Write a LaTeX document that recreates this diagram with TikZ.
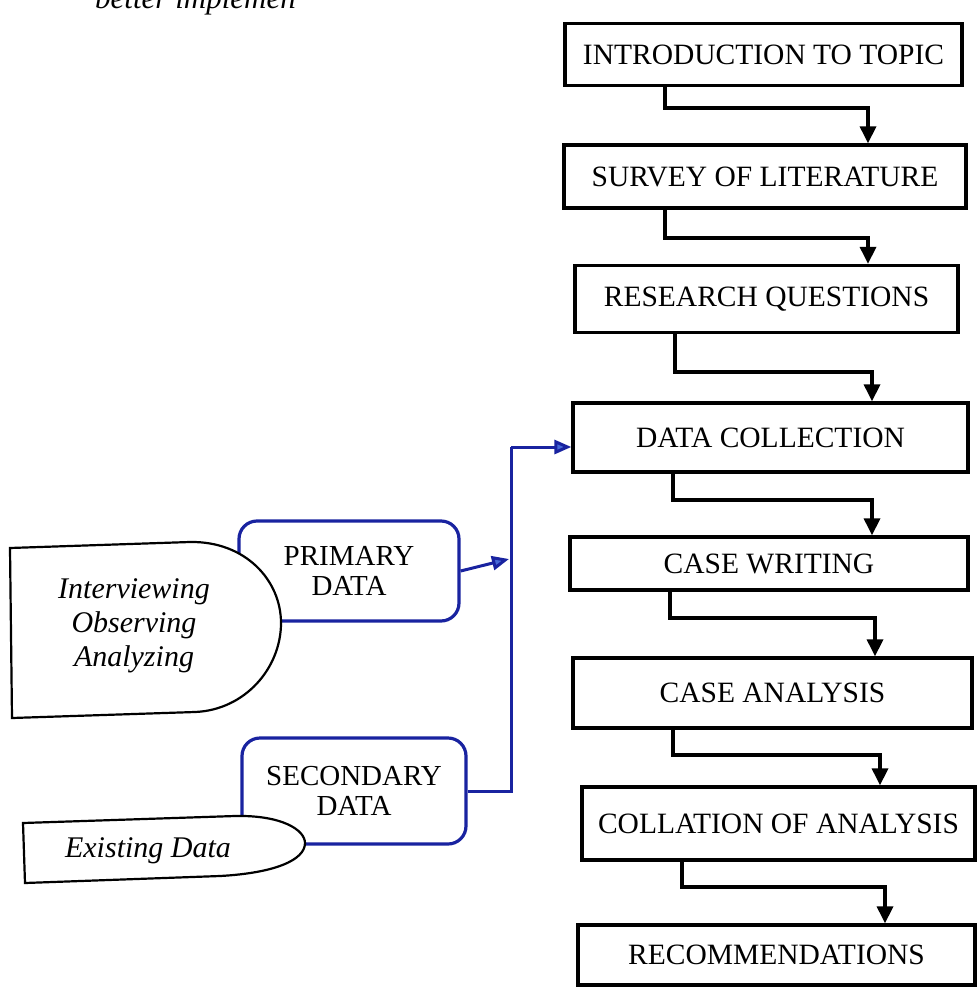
\documentclass[tikz,border=0pt]{standalone}
\usepackage{fontspec}
\setmainfont{Liberation Serif}
\usetikzlibrary{arrows.meta}
\definecolor{dblue}{RGB}{25,35,160}
\definecolor{ablue}{RGB}{70,105,215}
\begin{document}
\begin{tikzpicture}[x=1pt,y=-1pt,
  box/.style={draw=black, line width=3.3pt, fill=white, inner sep=0pt, font=\fontsize{29.5}{31}\selectfont},
  flow/.style={line width=3.3pt, line join=miter, -{Triangle[length=17pt,width=16pt]}},
  bbox/.style={draw=dblue, line width=3.2pt, rounded corners=18pt, fill=white, align=center, inner sep=0pt, font=\fontsize{29}{30}\selectfont},
  bline/.style={draw=dblue, line width=3pt, line join=miter},
  barrow/.style={bline, -{Triangle[length=17pt,width=14pt,fill=ablue]}},
  src/.style={draw=black, line width=2.2pt, fill=white},
  srctext/.style={font=\fontsize{30}{34}\selectfont\itshape, align=center, inner sep=0pt}
]
\useasboundingbox (0,0) rectangle (978,990);

% cut-off text at the top of the page
\node[anchor=base west, inner sep=0pt, font=\fontsize{31}{32}\selectfont\itshape] (toptext) at (95,9) {better implemen};

% main column
\node[box, minimum width=397pt, minimum height=62pt] (b1) at (763.5,54.5) {INTRODUCTION TO TOPIC};
\node[box, minimum width=402pt, minimum height=63pt] (b2) at (765,176.5) {SURVEY OF LITERATURE};
\node[box, minimum width=383pt, minimum height=67pt] (b3) at (766.5,299) {RESEARCH QUESTIONS};
\node[box, minimum width=395pt, minimum height=69pt] (b4) at (770.5,437.5) {DATA COLLECTION};
\node[box, minimum width=398pt, minimum height=53pt] (b5) at (769,563.5) {CASE WRITING};
\node[box, minimum width=399pt, minimum height=70pt] (b6) at (772.5,693) {CASE ANALYSIS};
\node[box, minimum width=393pt, minimum height=73pt] (b7) at (778.5,823.5) {COLLATION OF ANALYSIS};
\node[box, minimum width=397pt, minimum height=60pt] (b8) at (776.5,955) {RECOMMENDATIONS};

\draw[flow] (b1.south -| 665,0) -- (665,108) -| (b2.north -| 868,0);
\draw[flow] (b2.south -| 665,0) -- (665,238) -| (b3.north -| 868,0);
\draw[flow] (b3.south -| 675,0) -- (675,372) -| (b4.north -| 872,0);
\draw[flow] (b4.south -| 673,0) -- (673,500) -| (b5.north -| 872,0);
\draw[flow] (b5.south -| 670,0) -- (670,618) -| (b6.north -| 875,0);
\draw[flow] (b6.south -| 673,0) -- (673,755) -| (b7.north -| 880,0);
\draw[flow] (b7.south -| 682,0) -- (682,887) -| (b8.north -| 885,0);

% data sources
\node[bbox, minimum width=220pt, minimum height=100pt] (prim) at (349,571) {PRIMARY\\DATA};
\draw[src] (10,548) -- (190,542) .. controls (245,541) and (281,580) .. (281,623)
  .. controls (281,668) and (245,710) .. (195,712) -- (12,718) -- cycle;
\node[srctext] (intv) at (134,626) {Interviewing\\Observing\\Analyzing};

\node[bbox, minimum width=224pt, minimum height=106pt] (sec) at (354,791) {SECONDARY\\DATA};
\draw[src] (23,823) -- (235,816) .. controls (282,815) and (305,830) .. (305,843)
  .. controls (305,860) and (275,873) .. (220,876) -- (25,883) -- cycle;
\node[srctext] (exist) at (148,851) {Existing Data};

% blue connectors
\coordinate (jn) at (511,447);
\coordinate (jp) at (509,559);
\draw[bline] (sec.east) -- (sec.east -| jn) -- (jn);
\draw[barrow] (jn) -- (jn -| b4.west);
\draw[barrow] (prim.east) -- (jp);
\end{tikzpicture}
\end{document}
